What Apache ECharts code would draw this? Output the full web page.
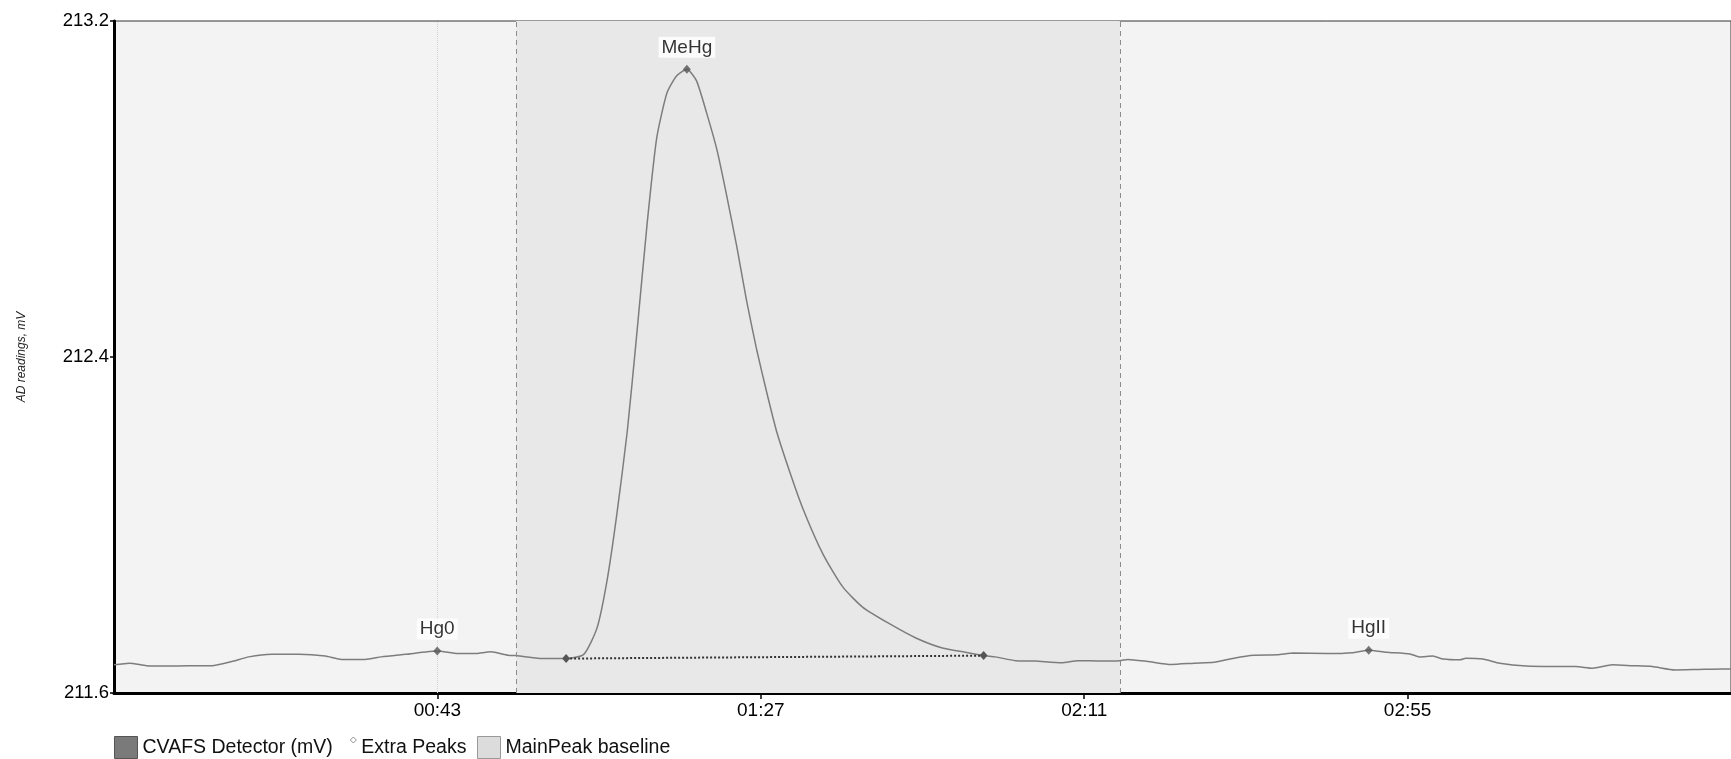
<!DOCTYPE html>
<html>
<head>
<meta charset="utf-8">
<title>CVAFS chromatogram</title>
<script src="https://cdn.jsdelivr.net/npm/echarts@6/dist/echarts.min.js"></script>
<style>
  html, body { margin: 0; padding: 0; background: #fff; }
  #chart { width: 1731px; height: 759px; }
</style>
</head>
<body>
<div id="chart"></div>
<script>
// detector trace (seconds, mV)
const timeSec = [
  0, 2.1, 4.4, 7.1, 10.2, 13.3, 16.0, 18.3, 21.4, 25.1, 28.7, 30.9, 34.1, 36.3, 39.6,
  43.9, 46.7, 49.0, 51.2, 53.5, 54.6, 57.5, 59.6, 61.4, 63.8, 65.6, 67.0, 68.3, 69.7,
  71.0, 72.4, 73.7, 75.1, 76.4, 77.8, 79.1, 80.5, 81.9, 83.2, 84.6, 85.9, 87.3, 88.6,
  90.0, 91.8, 93.6, 96.3, 99.0, 101.7, 105.3, 108.9, 112.5, 115.6, 118.1, 119.7, 122.4,
  125.1, 128.7, 130.9, 134.1, 136.6, 137.7, 140.4, 143.6, 146.7, 149.4, 152.1, 154.8,
  158.0, 160.2, 164.7, 168.3, 170.4, 172.8, 176.0, 177.3, 179.1, 180.5, 182.8, 183.6,
  185.9, 188.2, 191.8, 195.4, 198.5, 200.8, 203.5, 206.2, 208.9, 212.0, 215.2, 218.5, 219.6
];
const detectorMv = [
  211.667, 211.671, 211.665, 211.664, 211.665, 211.665, 211.675, 211.686, 211.692, 211.692,
  211.688, 211.680, 211.680, 211.686, 211.692,
  211.700, 211.694, 211.694, 211.698, 211.690, 211.689, 211.683, 211.682, 211.682, 211.692,
  211.755, 211.872, 212.027, 212.222,
  212.455, 212.717, 212.921, 213.029, 213.069, 213.085, 213.058, 212.980, 212.892, 212.785,
  212.661, 212.535, 212.416, 212.319,
  212.222, 212.125, 212.037, 211.930, 211.852, 211.804, 211.765, 211.731, 211.707, 211.697,
  211.689, 211.686, 211.677,
  211.676, 211.672, 211.677, 211.676, 211.677, 211.680, 211.675, 211.668, 211.671, 211.673,
  211.683, 211.690,
  211.691, 211.695, 211.694, 211.696, 211.702, 211.697, 211.693, 211.686, 211.688, 211.681,
  211.679, 211.683,
  211.681, 211.671, 211.664, 211.663, 211.663, 211.659, 211.667, 211.665, 211.663, 211.655,
  211.656, 211.657, 211.657
];

// identified peaks
const peakNames = ['Hg0', 'MeHg', 'HgII'];
const peakTimes = [43.9, 77.8, 170.4];
const peakMv = [211.700, 213.085, 211.702];

// main peak baseline end points
const baselineTimes = [61.4, 118.1];
const baselineMv = [211.682, 211.689];

// integration window (dashed lines)
const windowTimes = [54.6, 136.6];

// axes
const xTickValues = [43.92, 87.84, 131.76, 175.68];
const xTickLabels = ['00:43', '01:27', '02:11', '02:55'];
const yTickValues = [211.6, 212.4, 213.2];

const chart = echarts.init(document.getElementById('chart'));

const font = 'Liberation Sans, Arial, sans-serif';

const legendBase = {
  top: 736,
  padding: 0,
  itemWidth: 23,
  itemHeight: 22,
  itemGap: 0,
  textStyle: { fontSize: 19.5, color: '#111', fontFamily: font }
};

const option = {
  animation: false,
  backgroundColor: '#fff',
  textStyle: { fontFamily: font },
  grid: {
    left: 114,
    top: 21,
    width: 1625,
    height: 672,
    show: true,
    backgroundColor: '#f3f3f3',
    borderColor: '#333',
    borderWidth: 1
  },
  // two legends so the gap before the last swatch can differ
  legend: [
    Object.assign({}, legendBase, {
      left: 114,
      data: [
        {
          name: 'CVAFS Detector (mV)',
          icon: 'rect',
          itemStyle: { color: '#7a7a7a', borderColor: '#555', borderWidth: 1 }
        },
        {
          name: 'Extra Peaks',
          icon: 'path://M20,1L23,4L20,7L17,4Z M0,22L0.05,22',
          itemStyle: { color: '#fff', borderColor: '#777', borderWidth: 1 }
        }
      ]
    }),
    Object.assign({}, legendBase, {
      left: 477,
      data: [
        {
          name: 'MainPeak baseline',
          icon: 'rect',
          itemStyle: { color: '#dcdcdc', borderColor: '#999', borderWidth: 1 }
        }
      ]
    })
  ],
  xAxis: {
    type: 'value',
    min: 0,
    max: 219.6,
    axisLine: { lineStyle: { color: '#000', width: 3 } },
    axisTick: {
      show: true,
      length: 6,
      customValues: xTickValues,
      lineStyle: { color: '#000', width: 1.5 }
    },
    axisLabel: {
      customValues: xTickValues,
      margin: 8,
      fontSize: 19,
      color: '#000',
      formatter: function (v) {
        let best = 0;
        for (let i = 1; i < xTickValues.length; i++) {
          if (Math.abs(xTickValues[i] - v) < Math.abs(xTickValues[best] - v)) best = i;
        }
        return xTickLabels[best];
      }
    },
    splitLine: { show: false }
  },
  yAxis: {
    type: 'value',
    min: 211.6,
    max: 213.2,
    name: 'AD readings, mV',
    nameLocation: 'middle',
    nameRotate: 90,
    nameGap: 86,
    nameTextStyle: { fontSize: 12, fontStyle: 'italic', color: '#222' },
    axisLine: { show: true, lineStyle: { color: '#000', width: 3 } },
    axisTick: {
      show: true,
      length: 4,
      customValues: yTickValues,
      lineStyle: { color: '#000', width: 1.5 }
    },
    axisLabel: {
      customValues: yTickValues,
      margin: 5,
      fontSize: 18.5,
      color: '#000',
      formatter: function (v) { return v.toFixed(1); }
    },
    splitLine: { show: false }
  },
  series: [
    {
      name: 'CVAFS Detector (mV)',
      type: 'line',
      data: timeSec.map((t, i) => [t, detectorMv[i]]),
      showSymbol: false,
      smooth: 0.2,
      color: '#7a7a7a',
      lineStyle: { color: '#7d7d7d', width: 1.5 },
      z: 3,
      markArea: {
        silent: true,
        itemStyle: { color: '#e8e8e8' },
        data: [[{ xAxis: windowTimes[0] }, { xAxis: windowTimes[1] }]]
      },
      markLine: {
        silent: true,
        symbol: 'none',
        label: { show: false },
        lineStyle: { color: '#8c8c8c', type: [5, 4], width: 1 },
        data: windowTimes.map(t => ({ xAxis: t }))
      }
    },
    {
      name: 'Extra Peaks',
      type: 'scatter',
      data: peakTimes.map((t, i) => [t, peakMv[i], peakNames[i]]),
      symbol: 'diamond',
      symbolSize: [8, 9],
      itemStyle: { color: '#555' },
      z: 5,
      label: {
        show: true,
        position: 'top',
        distance: 7,
        fontSize: 19,
        color: '#000',
        backgroundColor: '#fff',
        padding: [1, 3],
        formatter: p => p.value[2]
      },
      markLine: {
        silent: true,
        symbol: 'none',
        label: { show: false },
        lineStyle: { color: '#d2d2d2', type: 'dotted', width: 1 },
        data: [{ xAxis: peakTimes[0] }]
      }
    },
    {
      name: 'MainPeak baseline',
      type: 'line',
      data: baselineTimes.map((t, i) => [t, baselineMv[i]]),
      symbol: 'diamond',
      symbolSize: [8, 9],
      showSymbol: true,
      color: '#555',
      itemStyle: { color: '#555' },
      lineStyle: { color: '#333', type: 'dotted', width: 2 },
      z: 4
    }
  ]
};

chart.setOption(option);
</script>
</body>
</html>
